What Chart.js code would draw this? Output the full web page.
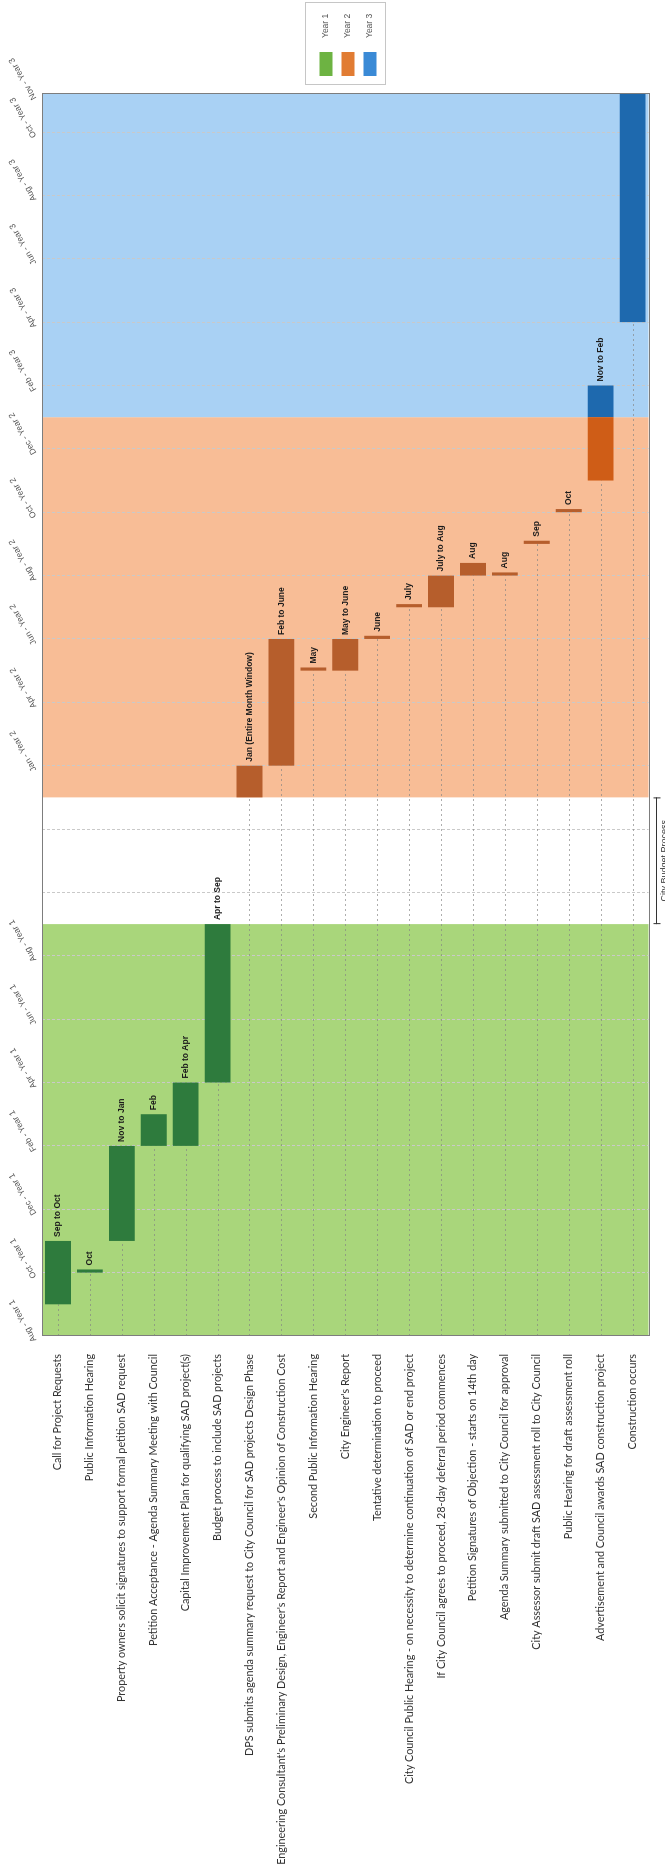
<!DOCTYPE html>
<html>
<head>
<meta charset="utf-8">
<script src="https://cdn.jsdelivr.net/npm/chart.js@4.4.0/dist/chart.umd.min.js"></script>
<style>
  html, body { margin: 0; padding: 0; background: #fff; overflow: hidden; }
  /* the chart is drawn landscape and turned a quarter turn, like the scanned page */
  #wrap { position: absolute; left: 0; top: 0; width: 1871px; height: 665px;
          transform-origin: 0 0; transform: translate(0, 1871px) rotate(-90deg); }
</style>
</head>
<body>
<div id="wrap"><canvas id="gantt" width="1871" height="665"></canvas></div>
<script>
// tasks, top to bottom
const tasks = [
  "Call for Project Requests",
  "Public Information Hearing",
  "Property owners solicit signatures to support formal petition SAD request",
  "Petition Acceptance - Agenda Summary Meeting with Council",
  "Capital Improvement Plan for qualifying SAD project(s)",
  "Budget process to include SAD projects",
  "DPS submits agenda summary request to City Council for SAD projects Design Phase",
  "Engineering Consultant's Preliminary Design, Engineer's Report and Engineer's Opinion of Construction Cost",
  "Second Public Information Hearing",
  "City Engineer's Report",
  "Tentative determination to proceed",
  "City Council Public Hearing - on necessity to determine continuation of SAD or end project",
  "If City Council agrees to proceed, 28-day deferral period commences",
  "Petition Signatures of Objection - starts on 14th day",
  "Agenda Summary submitted to City Council for approval",
  "City Assessor submit draft SAD assessment roll to City Council",
  "Public Hearing for draft assessment roll",
  "Advertisement and Council awards SAD construction project",
  "Construction occurs"
];

// months counted from Aug - Year 1, [start, end]
const year1Spans = [[1, 3], [2, 2.1], [3, 6], [6, 7], [6, 8], [8, 13],
  null, null, null, null, null, null, null, null, null, null, null, null, null];
const year2Spans = [null, null, null, null, null, null,
  [17, 18], [18, 22], [21, 21.1], [21, 22], [22, 22.1], [23, 23.1], [23, 24],
  [24, 24.4], [24, 24.1], [25, 25.1], [26, 26.1], [27, 29], null];
const year3Spans = [null, null, null, null, null, null, null, null, null, null,
  null, null, null, null, null, null, null, [29, 30], [32, 39.2]];

const barLabels = ["Sep to Oct", "Oct", "Nov to Jan", "Feb", "Feb to Apr", "Apr to Sep",
  "Jan (Entire Month Window)", "Feb to June", "May", "May to June", "June", "July",
  "July to Aug", "Aug", "Aug", "Sep", "Oct", "Nov to Feb", ""];

const yearNames = ["Year 1", "Year 2", "Year 3"];
const bandStart = [0, 17, 29];
const bandEnd = [13, 29, 39.2];

const tickMonths = [0, 2, 4, 6, 8, 10, 12, 14, 16, 18, 20, 22, 24, 26, 28, 30, 32, 34, 36, 38, 39.2];
const tickText = ["Aug - Year 1", "Oct - Year 1", "Dec - Year 1", "Feb - Year 1", "Apr - Year 1",
  "Jun - Year 1", "Aug - Year 1", "", "", "Jan - Year 2", "Apr - Year 2", "Jun - Year 2",
  "Aug - Year 2", "Oct - Year 2", "Dec - Year 2", "Feb - Year 3", "Apr - Year 3",
  "Jun - Year 3", "Aug - Year 3", "Oct - Year 3", "Nov - Year 3"];

const budgetSpan = [13, 17];
const budgetText = "City Budget Process";

// colours
const bandColors = ["#a9d67b", "#f8bd96", "#a9d1f4"];
const barColors = ["#2e7b3d", "#b65e2c", "#1e69ae"];
const legendColors = ["#6db342", "#e17c33", "#3a8ad6"];
const brightOrange = "#cf5d17";

// year backgrounds behind the grid
const bandsPlugin = {
  id: "bands",
  beforeDraw(chart) {
    const { ctx, chartArea: a, scales: { x } } = chart;
    ctx.save();
    bandStart.forEach((s, i) => {
      const x0 = x.getPixelForValue(s), x1 = x.getPixelForValue(bandEnd[i]);
      ctx.fillStyle = bandColors[i];
      ctx.fillRect(x0, a.top, x1 - x0, a.bottom - a.top);
    });
    ctx.restore();
  }
};

// dotted drop line from the axis to where each bar starts
const dropLines = {
  id: "dropLines",
  beforeDatasetsDraw(chart) {
    const { ctx, scales: { x, y } } = chart;
    ctx.save();
    ctx.strokeStyle = "rgba(130,130,130,0.65)";
    ctx.lineWidth = 1;
    ctx.setLineDash([2, 3]);
    tasks.forEach((t, i) => {
      const spans = [year1Spans[i], year2Spans[i], year3Spans[i]].filter(Boolean);
      const start = Math.min(...spans.map(s => s[0]));
      const yy = Math.round(y.getPixelForValue(i)) + 0.5;
      ctx.beginPath();
      ctx.moveTo(x.getPixelForValue(0), yy);
      ctx.lineTo(x.getPixelForValue(start), yy);
      ctx.stroke();
    });
    ctx.restore();
  }
};

// text after the end of each bar, frame, legend, budget bracket
const extras = {
  id: "extras",
  afterDraw(chart) {
    const { ctx, chartArea: a, scales: { x } } = chart;
    ctx.save();

    ctx.fillStyle = "#1b1b1b";
    ctx.font = "bold 8.5px 'Liberation Sans', Arial, sans-serif";
    ctx.textAlign = "left";
    ctx.textBaseline = "middle";
    tasks.forEach((t, i) => {
      let el = null;
      chart.data.datasets.forEach((ds, d) => {
        if (ds.data[i]) el = chart.getDatasetMeta(d).data[i];
      });
      if (el && barLabels[i]) ctx.fillText(barLabels[i], el.x + 4, el.y);
    });

    ctx.strokeStyle = "#7d7d7d";
    ctx.lineWidth = 1;
    ctx.strokeRect(Math.round(a.left) + 0.5, Math.round(a.top) + 0.5,
      Math.round(a.right - a.left), Math.round(a.bottom - a.top));

    // legend box to the right of the plot
    const lx = Math.round(a.right) + 9, ly = 305;
    ctx.strokeStyle = "#c6c6c6";
    ctx.strokeRect(lx + 0.5, ly + 0.5, 82, 80);
    ctx.font = "8.5px 'Liberation Sans', Arial, sans-serif";
    ctx.textBaseline = "middle";
    yearNames.forEach((n, i) => {
      const cy = ly + 21 + i * 22;
      ctx.fillStyle = legendColors[i];
      ctx.fillRect(lx + 9, cy - 6.5, 24, 13);
      ctx.fillStyle = "#555";
      ctx.fillText(n, lx + 47, cy);
    });

    const b0 = x.getPixelForValue(budgetSpan[0]), b1 = x.getPixelForValue(budgetSpan[1]);
    const by = Math.round(a.bottom) + 7.5;
    ctx.strokeStyle = "#333";
    ctx.beginPath();
    ctx.moveTo(b0 + 0.5, by - 3); ctx.lineTo(b0 + 0.5, by + 4);
    ctx.moveTo(b0, by); ctx.lineTo(b1, by);
    ctx.moveTo(b1 - 0.5, by - 3); ctx.lineTo(b1 - 0.5, by + 4);
    ctx.stroke();
    ctx.fillStyle = "#333";
    ctx.font = "9px 'Liberation Sans', Arial, sans-serif";
    ctx.textAlign = "center";
    ctx.textBaseline = "top";
    ctx.fillText(budgetText, (b0 + b1) / 2, by + 4);
    ctx.restore();
  }
};

new Chart(document.getElementById("gantt"), {
  type: "bar",
  data: {
    labels: tasks,
    datasets: [
      { label: yearNames[0], data: year1Spans, backgroundColor: barColors[0] },
      { label: yearNames[1], data: year2Spans,
        backgroundColor: ctx => ctx.dataIndex === 17 ? brightOrange : barColors[1] },
      { label: yearNames[2], data: year3Spans, backgroundColor: barColors[2] }
    ]
  },
  options: {
    indexAxis: "y",
    responsive: false,
    animation: false,
    grouped: false,
    barPercentage: 0.81,
    categoryPercentage: 1,
    layout: { padding: { top: 0, right: 94, bottom: 15, left: 0 } },
    scales: {
      x: {
        type: "linear",
        position: "top",
        min: 0,
        max: 39.2,
        afterBuildTicks: s => { s.ticks = tickMonths.map(v => ({ value: v })); },
        afterFit: s => { s.height = 42; },
        grid: { color: "#c9c9c9", drawTicks: false },
        border: { display: false, dash: [3, 2] },
        ticks: {
          minRotation: 30, maxRotation: 30, padding: 3, autoSkip: false,
          color: "#555",
          font: { family: "'Liberation Sans', Arial, sans-serif", size: 8.5 },
          callback: (v, i) => tickText[i]
        }
      },
      y: {
        afterFit: s => { s.width = 535; },
        grid: { display: false },
        border: { display: false },
        ticks: {
          padding: 10, autoSkip: false, color: "#333",
          font: { family: "Lato, 'Liberation Sans', sans-serif", size: 10.8 }
        }
      }
    },
    plugins: {
      tooltip: { enabled: false },
      legend: { display: false }
    }
  },
  plugins: [bandsPlugin, dropLines, extras]
});
</script>
</body>
</html>
